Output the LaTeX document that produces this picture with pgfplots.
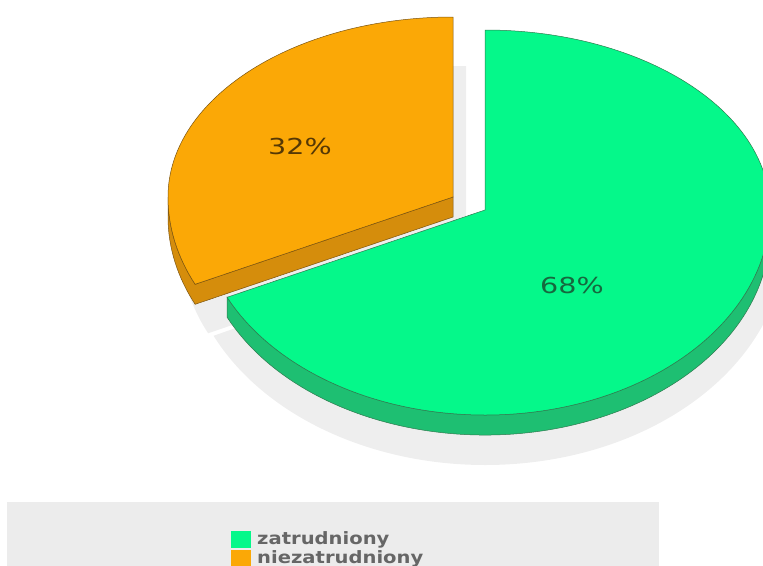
\documentclass[border=0pt]{standalone}
\usepackage{pgfplots}
\pgfplotsset{compat=1.18}
\usepackage{pgfplotstable}
\usepackage{fontspec}
\setmainfont{DejaVu Sans}
\definecolor{gtop}{HTML}{05F88A}
\definecolor{gside}{HTML}{1EBF72}
\definecolor{gline}{HTML}{2F7A4E}
\definecolor{otop}{HTML}{FBA806}
\definecolor{oside}{HTML}{D58D0C}
\definecolor{oline}{HTML}{7A5310}
\definecolor{shadowc}{HTML}{EEEEEE}
\definecolor{legbg}{HTML}{ECECEC}
\definecolor{legtext}{HTML}{666666}
\definecolor{olab}{HTML}{553805}
\definecolor{glab}{HTML}{16683E}

\pgfplotstableread{
label value
zatrudniony 68
niezatrudniony 32
}\pietable

\begin{document}%
\begin{tikzpicture}
\pgfplotstablegetelem{0}{value}\of\pietable \let\vG\pgfplotsretval
\pgfplotstablegetelem{1}{value}\of\pietable \let\vO\pgfplotsretval
\pgfmathsetmacro\aG{90-3.6*\vG}
\pgfmathsetmacro\aO{90+3.6*\vO}
\pgfmathsetmacro\oxc{453+285*cos(\aO)}
\pgfmathsetmacro\oyc{197-205*sin(\aO)}
\pgfmathsetmacro\oycd{\oyc+20}
\useasboundingbox (0,0) rectangle (763pt,565pt);
\clip (0,0) rectangle (763pt,565pt);
\begin{axis}[
  x=1pt, y=1pt,
  xmin=0, xmax=763, ymin=0, ymax=565,
  y dir=reverse,
  hide axis,
  clip=false,
]
% shadows
\fill[shadowc] (axis cs:485,240) -- (axis cs:485,58)
   arc[start angle=90,end angle=0,x radius=300pt,y radius=182pt]
   arc[start angle=0,end angle=\aG,x radius=300pt,y radius=225pt] -- cycle;
\fill[shadowc] (axis cs:466,245) -- (axis cs:466,66)
   arc[start angle=90,end angle=180,x radius=285pt,y radius=180pt]
   arc[start angle=180,end angle=\aO,x radius=285pt,y radius=205pt] -- cycle;
% orange side
\filldraw[fill=oside, draw=oline, line width=0.5pt] (axis cs:168,197)
   arc[start angle=180,end angle=\aO,x radius=285pt,y radius=205pt]
   -- (axis cs:453,197) -- (axis cs:453,217) -- (axis cs:\oxc,\oycd)
   arc[start angle=\aO,end angle=180,x radius=285pt,y radius=205pt] -- cycle;
% orange top
\filldraw[fill=otop, draw=oline, line width=0.5pt] (axis cs:453,197) -- (axis cs:453,17)
   arc[start angle=90,end angle=180,x radius=285pt,y radius=180pt]
   arc[start angle=180,end angle=\aO,x radius=285pt,y radius=205pt] -- cycle;
% green side
\filldraw[fill=gside, draw=gline, line width=0.5pt] (axis cs:770,210)
   arc[start angle=0,end angle=\aG,x radius=285pt,y radius=205pt]
   -- ++(0pt,-20pt)
   arc[start angle=\aG,end angle=0,x radius=285pt,y radius=205pt] -- cycle;
% green top
\filldraw[fill=gtop, draw=gline, line width=0.5pt] (axis cs:485,210) -- (axis cs:485,30)
   arc[start angle=90,end angle=0,x radius=285pt,y radius=180pt]
   arc[start angle=0,end angle=\aG,x radius=285pt,y radius=205pt] -- cycle;
% labels
\node[font=\fontsize{22}{26}\selectfont, text=olab, xscale=1.3] at (axis cs:300,146) {32\%};
\node[font=\fontsize{22}{26}\selectfont, text=glab, xscale=1.3] at (axis cs:572,285) {68\%};
% legend
\fill[legbg] (axis cs:7,502) rectangle (axis cs:659,600);
\fill[gtop] (axis cs:231,531) rectangle (axis cs:251,548);
\fill[otop] (axis cs:231,550) rectangle (axis cs:251,567);
\node[anchor=west, font=\bfseries\fontsize{17}{19}\selectfont, text=legtext, xscale=1.15, inner sep=0pt] at (axis cs:257,540) {zatrudniony};
\node[anchor=west, font=\bfseries\fontsize{17}{19}\selectfont, text=legtext, xscale=1.15, inner sep=0pt] at (axis cs:257,559) {niezatrudniony};
\end{axis}
\end{tikzpicture}%
\end{document}
